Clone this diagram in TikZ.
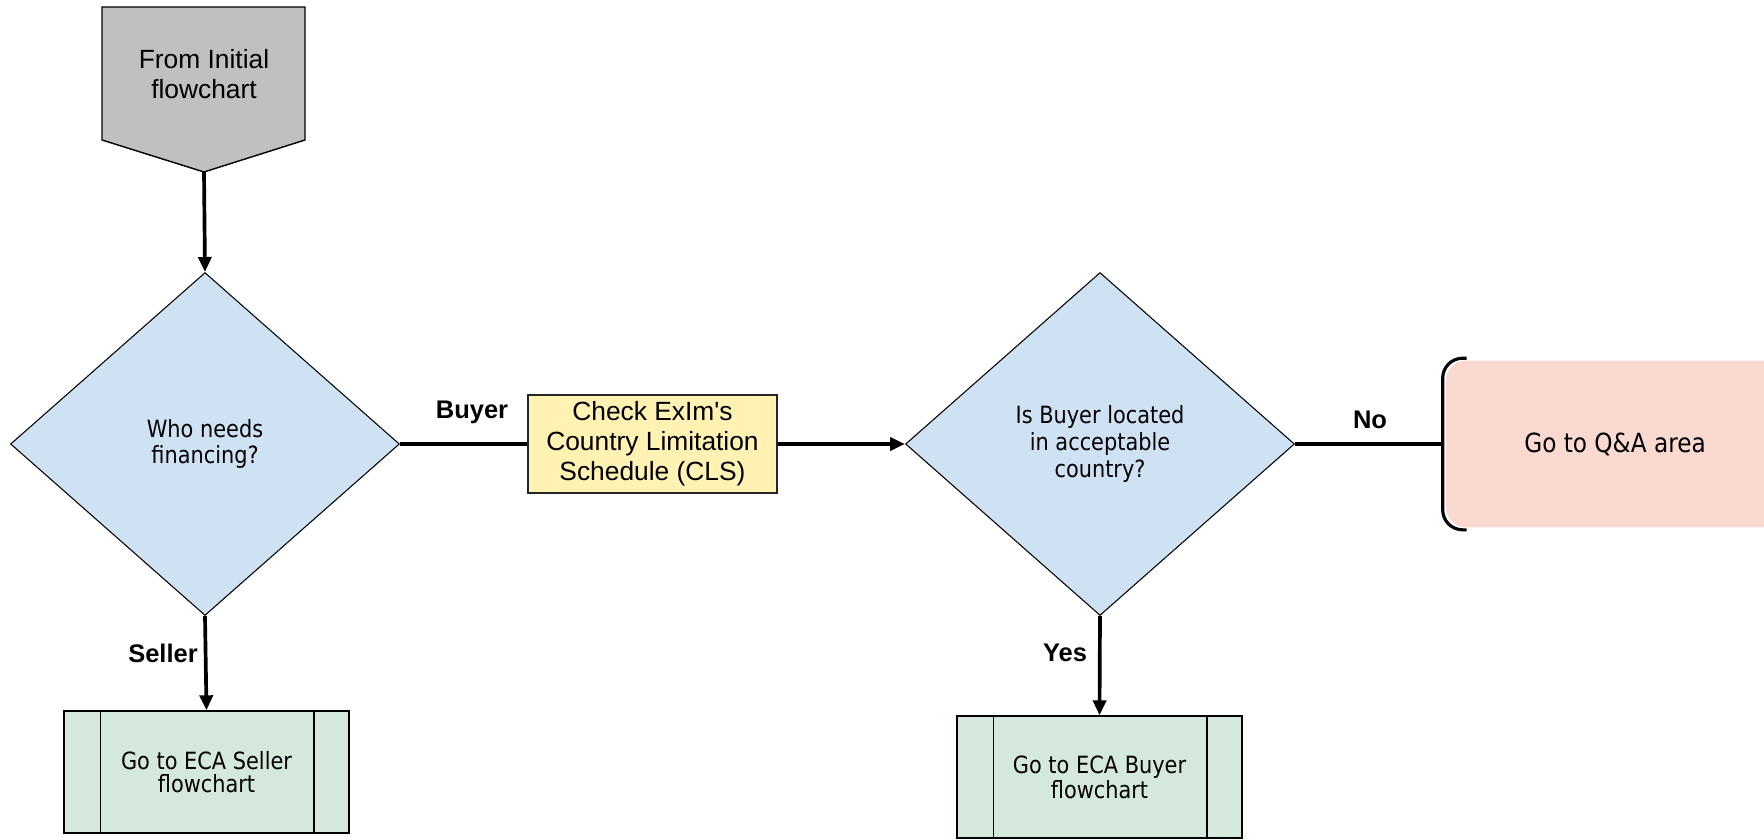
\documentclass[tikz,border=0pt]{standalone}
\usepackage{fontspec}
\setmainfont{Liberation Sans}[Ligatures=TeXOff]
\newfontfamily\tahomalike[FakeStretch=0.88]{DejaVu Sans}
\usetikzlibrary{arrows.meta,shapes.geometric,positioning}
\definecolor{initgray}{RGB}{192,192,192}
\definecolor{decblue}{RGB}{207,226,243}
\definecolor{clsyellow}{RGB}{255,242,179}
\definecolor{ecagreen}{RGB}{213,232,220}
\definecolor{qapink}{RGB}{250,217,208}

\begin{document}
\begin{tikzpicture}[x=0.02cm,y=-0.02cm,
  >={Triangle[length=0.3cm,width=0.26cm]},
  flowline/.style={line width=2.1pt},
  bigtext/.style={align=center,font=\fontsize{15}{17}\selectfont},
  decision/.style={diamond,draw=black,line width=0.6pt,fill=decblue,inner sep=0pt,
    minimum width=7.78cm,minimum height=6.86cm,align=center,
    font=\tahomalike\fontsize{13.5}{15.2}\selectfont},
  clsbox/.style={rectangle,draw=black!85,line width=0.8pt,fill=clsyellow,
    minimum width=4.98cm,minimum height=1.96cm,bigtext},
  ecabox/.style={rectangle,draw=black,line width=0.8pt,fill=ecagreen,
    minimum width=5.7cm,minimum height=2.44cm,align=center,
    font=\tahomalike\fontsize{13.5}{13}\selectfont,
    path picture={\draw[line width=0.8pt]
      ([xshift=0.73cm]path picture bounding box.north west) -- ([xshift=0.73cm]path picture bounding box.south west)
      ([xshift=-0.7cm]path picture bounding box.north east) -- ([xshift=-0.7cm]path picture bounding box.south east);}},
  qabox/.style={rectangle,draw=none,fill=qapink,rounded corners=0.4cm,
    minimum width=6.76cm,minimum height=3.34cm,
    font=\tahomalike\fontsize{15}{17}\selectfont},
  lbl/.style={font=\bfseries\fontsize{14.5}{17}\selectfont},
]
  \path[use as bounding box,fill=white] (0,0) rectangle (1764,839);

  % off-page connector
  \draw[line width=0.8pt,fill=initgray] (102,7) -- (305,7) -- (305,140) -- (204,172) -- (102,140) -- cycle;
  \coordinate (initp) at (204,172);
  \node[bigtext] (init) at (204,74) {From Initial\\flowchart};

  % decisions and boxes
  \node[decision] (who) at (205,444) {Who needs\\financing?};
  \node[clsbox] (cls) at (652.5,444) {Check ExIm's\\Country Limitation\\Schedule (CLS)};
  \node[decision] (where) at (1100,444) {Is Buyer located\\in acceptable\\country?};
  \node[qabox] (qa) at (1615,444) {Go to Q\&A area};
  \draw[line width=1.8pt,rounded corners=0.4cm]
    ([xshift=0.42cm,yshift=0.04cm]qa.north west) -- ([xshift=-0.06cm,yshift=0.04cm]qa.north west)
    -- ([xshift=-0.06cm,yshift=-0.04cm]qa.south west) -- ([xshift=0.42cm,yshift=-0.04cm]qa.south west);
  \node[ecabox] (seller) at (206.5,772) {Go to ECA Seller\\flowchart};
  \node[ecabox] (buyer) at (1099.5,777) {Go to ECA Buyer\\flowchart};

  % connectors
  \draw[flowline,->] (initp) -- (who.north);
  \draw[flowline] (who.east) -- (cls.west);
  \draw[flowline,->] (cls.east) -- (where.west);
  \draw[flowline] (where.east) -- ([xshift=-0.06cm]qa.west);
  \draw[flowline,->] (who.south) -- (seller.north);
  \draw[flowline,->] (where.south) -- (buyer.north);

  % branch labels
  \node[lbl] (buyerlbl) at (472,412) {Buyer};
  \node[lbl] (nolbl) at (1370,420) {No};
  \node[lbl] (sellerlbl) at (163,653) {Seller};
  \node[lbl] (yeslbl) at (1065,653) {Yes};
\end{tikzpicture}
\end{document}
